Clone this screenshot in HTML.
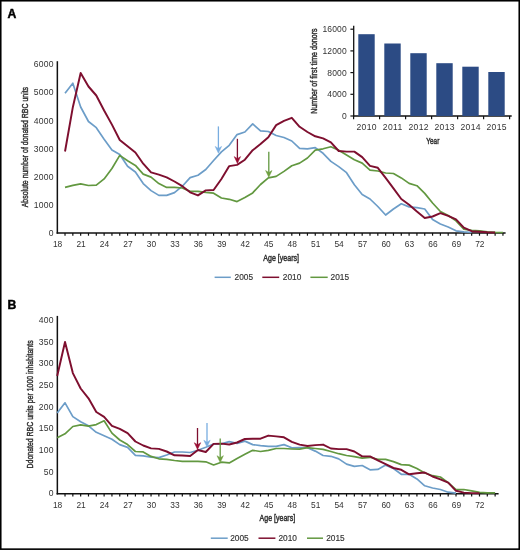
<!DOCTYPE html>
<html><head><meta charset="utf-8"><style>
html,body{margin:0;padding:0;background:#fff;}
svg{display:block;will-change:transform;font-family:"Liberation Sans", sans-serif;}
</style></head><body>
<svg width="520" height="550" viewBox="0 0 520 550">
<rect x="0.75" y="0.75" width="518.5" height="548.4" fill="none" stroke="#000" stroke-width="1.6"/>
<text x="7.5" y="17.6" font-size="12.2" text-anchor="start" fill="#000" font-weight="bold" stroke="#000" stroke-width="0.45">A</text>
<line x1="57.35" y1="61.2" x2="57.35" y2="233.65" stroke="#111" stroke-width="1.5"/>
<line x1="56.6" y1="232.9" x2="505.6" y2="232.9" stroke="#111" stroke-width="1.5"/>
<line x1="65.02" y1="232.9" x2="65.02" y2="235.7" stroke="#111" stroke-width="1.2"/>
<line x1="72.84" y1="232.9" x2="72.84" y2="235.7" stroke="#111" stroke-width="1.2"/>
<line x1="80.66" y1="232.9" x2="80.66" y2="235.7" stroke="#111" stroke-width="1.2"/>
<line x1="88.48" y1="232.9" x2="88.48" y2="235.7" stroke="#111" stroke-width="1.2"/>
<line x1="96.30" y1="232.9" x2="96.30" y2="235.7" stroke="#111" stroke-width="1.2"/>
<line x1="104.12" y1="232.9" x2="104.12" y2="235.7" stroke="#111" stroke-width="1.2"/>
<line x1="111.94" y1="232.9" x2="111.94" y2="235.7" stroke="#111" stroke-width="1.2"/>
<line x1="119.76" y1="232.9" x2="119.76" y2="235.7" stroke="#111" stroke-width="1.2"/>
<line x1="127.58" y1="232.9" x2="127.58" y2="235.7" stroke="#111" stroke-width="1.2"/>
<line x1="135.40" y1="232.9" x2="135.40" y2="235.7" stroke="#111" stroke-width="1.2"/>
<line x1="143.22" y1="232.9" x2="143.22" y2="235.7" stroke="#111" stroke-width="1.2"/>
<line x1="151.04" y1="232.9" x2="151.04" y2="235.7" stroke="#111" stroke-width="1.2"/>
<line x1="158.86" y1="232.9" x2="158.86" y2="235.7" stroke="#111" stroke-width="1.2"/>
<line x1="166.68" y1="232.9" x2="166.68" y2="235.7" stroke="#111" stroke-width="1.2"/>
<line x1="174.50" y1="232.9" x2="174.50" y2="235.7" stroke="#111" stroke-width="1.2"/>
<line x1="182.32" y1="232.9" x2="182.32" y2="235.7" stroke="#111" stroke-width="1.2"/>
<line x1="190.14" y1="232.9" x2="190.14" y2="235.7" stroke="#111" stroke-width="1.2"/>
<line x1="197.96" y1="232.9" x2="197.96" y2="235.7" stroke="#111" stroke-width="1.2"/>
<line x1="205.78" y1="232.9" x2="205.78" y2="235.7" stroke="#111" stroke-width="1.2"/>
<line x1="213.60" y1="232.9" x2="213.60" y2="235.7" stroke="#111" stroke-width="1.2"/>
<line x1="221.42" y1="232.9" x2="221.42" y2="235.7" stroke="#111" stroke-width="1.2"/>
<line x1="229.24" y1="232.9" x2="229.24" y2="235.7" stroke="#111" stroke-width="1.2"/>
<line x1="237.06" y1="232.9" x2="237.06" y2="235.7" stroke="#111" stroke-width="1.2"/>
<line x1="244.88" y1="232.9" x2="244.88" y2="235.7" stroke="#111" stroke-width="1.2"/>
<line x1="252.70" y1="232.9" x2="252.70" y2="235.7" stroke="#111" stroke-width="1.2"/>
<line x1="260.52" y1="232.9" x2="260.52" y2="235.7" stroke="#111" stroke-width="1.2"/>
<line x1="268.34" y1="232.9" x2="268.34" y2="235.7" stroke="#111" stroke-width="1.2"/>
<line x1="276.16" y1="232.9" x2="276.16" y2="235.7" stroke="#111" stroke-width="1.2"/>
<line x1="283.98" y1="232.9" x2="283.98" y2="235.7" stroke="#111" stroke-width="1.2"/>
<line x1="291.80" y1="232.9" x2="291.80" y2="235.7" stroke="#111" stroke-width="1.2"/>
<line x1="299.62" y1="232.9" x2="299.62" y2="235.7" stroke="#111" stroke-width="1.2"/>
<line x1="307.44" y1="232.9" x2="307.44" y2="235.7" stroke="#111" stroke-width="1.2"/>
<line x1="315.26" y1="232.9" x2="315.26" y2="235.7" stroke="#111" stroke-width="1.2"/>
<line x1="323.08" y1="232.9" x2="323.08" y2="235.7" stroke="#111" stroke-width="1.2"/>
<line x1="330.90" y1="232.9" x2="330.90" y2="235.7" stroke="#111" stroke-width="1.2"/>
<line x1="338.72" y1="232.9" x2="338.72" y2="235.7" stroke="#111" stroke-width="1.2"/>
<line x1="346.54" y1="232.9" x2="346.54" y2="235.7" stroke="#111" stroke-width="1.2"/>
<line x1="354.36" y1="232.9" x2="354.36" y2="235.7" stroke="#111" stroke-width="1.2"/>
<line x1="362.18" y1="232.9" x2="362.18" y2="235.7" stroke="#111" stroke-width="1.2"/>
<line x1="370.00" y1="232.9" x2="370.00" y2="235.7" stroke="#111" stroke-width="1.2"/>
<line x1="377.82" y1="232.9" x2="377.82" y2="235.7" stroke="#111" stroke-width="1.2"/>
<line x1="385.64" y1="232.9" x2="385.64" y2="235.7" stroke="#111" stroke-width="1.2"/>
<line x1="393.46" y1="232.9" x2="393.46" y2="235.7" stroke="#111" stroke-width="1.2"/>
<line x1="401.28" y1="232.9" x2="401.28" y2="235.7" stroke="#111" stroke-width="1.2"/>
<line x1="409.10" y1="232.9" x2="409.10" y2="235.7" stroke="#111" stroke-width="1.2"/>
<line x1="416.92" y1="232.9" x2="416.92" y2="235.7" stroke="#111" stroke-width="1.2"/>
<line x1="424.74" y1="232.9" x2="424.74" y2="235.7" stroke="#111" stroke-width="1.2"/>
<line x1="432.56" y1="232.9" x2="432.56" y2="235.7" stroke="#111" stroke-width="1.2"/>
<line x1="440.38" y1="232.9" x2="440.38" y2="235.7" stroke="#111" stroke-width="1.2"/>
<line x1="448.20" y1="232.9" x2="448.20" y2="235.7" stroke="#111" stroke-width="1.2"/>
<line x1="456.02" y1="232.9" x2="456.02" y2="235.7" stroke="#111" stroke-width="1.2"/>
<line x1="463.84" y1="232.9" x2="463.84" y2="235.7" stroke="#111" stroke-width="1.2"/>
<line x1="471.66" y1="232.9" x2="471.66" y2="235.7" stroke="#111" stroke-width="1.2"/>
<line x1="479.48" y1="232.9" x2="479.48" y2="235.7" stroke="#111" stroke-width="1.2"/>
<line x1="487.30" y1="232.9" x2="487.30" y2="235.7" stroke="#111" stroke-width="1.2"/>
<line x1="495.12" y1="232.9" x2="495.12" y2="235.7" stroke="#111" stroke-width="1.2"/>
<line x1="502.94" y1="232.9" x2="502.94" y2="235.7" stroke="#111" stroke-width="1.2"/>
<text x="53.8" y="236.1" font-size="8.6" text-anchor="end" fill="#333" font-weight="normal" letter-spacing="0.25">0</text>
<text x="53.8" y="207.97" font-size="8.6" text-anchor="end" fill="#333" font-weight="normal" letter-spacing="0.25">1000</text>
<text x="53.8" y="179.84" font-size="8.6" text-anchor="end" fill="#333" font-weight="normal" letter-spacing="0.25">2000</text>
<text x="53.8" y="151.70999999999998" font-size="8.6" text-anchor="end" fill="#333" font-weight="normal" letter-spacing="0.25">3000</text>
<text x="53.8" y="123.58" font-size="8.6" text-anchor="end" fill="#333" font-weight="normal" letter-spacing="0.25">4000</text>
<text x="53.8" y="95.44999999999999" font-size="8.6" text-anchor="end" fill="#333" font-weight="normal" letter-spacing="0.25">5000</text>
<text x="53.8" y="67.32" font-size="8.6" text-anchor="end" fill="#333" font-weight="normal" letter-spacing="0.25">6000</text>
<text x="57.6" y="247.2" font-size="8.4" text-anchor="middle" fill="#333" font-weight="normal">18</text>
<text x="81.06" y="247.2" font-size="8.4" text-anchor="middle" fill="#333" font-weight="normal">21</text>
<text x="104.52000000000001" y="247.2" font-size="8.4" text-anchor="middle" fill="#333" font-weight="normal">24</text>
<text x="127.98" y="247.2" font-size="8.4" text-anchor="middle" fill="#333" font-weight="normal">27</text>
<text x="151.44000000000003" y="247.2" font-size="8.4" text-anchor="middle" fill="#333" font-weight="normal">30</text>
<text x="174.9" y="247.2" font-size="8.4" text-anchor="middle" fill="#333" font-weight="normal">33</text>
<text x="198.35999999999999" y="247.2" font-size="8.4" text-anchor="middle" fill="#333" font-weight="normal">36</text>
<text x="221.82000000000002" y="247.2" font-size="8.4" text-anchor="middle" fill="#333" font-weight="normal">39</text>
<text x="245.28" y="247.2" font-size="8.4" text-anchor="middle" fill="#333" font-weight="normal">42</text>
<text x="268.74" y="247.2" font-size="8.4" text-anchor="middle" fill="#333" font-weight="normal">45</text>
<text x="292.2" y="247.2" font-size="8.4" text-anchor="middle" fill="#333" font-weight="normal">48</text>
<text x="315.65999999999997" y="247.2" font-size="8.4" text-anchor="middle" fill="#333" font-weight="normal">51</text>
<text x="339.11999999999995" y="247.2" font-size="8.4" text-anchor="middle" fill="#333" font-weight="normal">54</text>
<text x="362.58" y="247.2" font-size="8.4" text-anchor="middle" fill="#333" font-weight="normal">57</text>
<text x="386.03999999999996" y="247.2" font-size="8.4" text-anchor="middle" fill="#333" font-weight="normal">60</text>
<text x="409.5" y="247.2" font-size="8.4" text-anchor="middle" fill="#333" font-weight="normal">63</text>
<text x="432.96" y="247.2" font-size="8.4" text-anchor="middle" fill="#333" font-weight="normal">66</text>
<text x="456.41999999999996" y="247.2" font-size="8.4" text-anchor="middle" fill="#333" font-weight="normal">69</text>
<text x="479.88" y="247.2" font-size="8.4" text-anchor="middle" fill="#333" font-weight="normal">72</text>
<text x="263.3" y="260.8" font-size="9.5" text-anchor="start" fill="#333" font-weight="normal" textLength="35.69999999999999" lengthAdjust="spacingAndGlyphs" stroke="#333" stroke-width="0.5">Age [years]</text>
<text transform="translate(28.4,207.3) rotate(-90)" x="0" y="0" font-size="9.9" fill="#333" stroke="#333" stroke-width="0.45" textLength="120.4" lengthAdjust="spacingAndGlyphs">Absolute number of donated RBC units</text>
<line x1="214.6" y1="277.3" x2="230.8" y2="277.3" stroke="#6c9dc8" stroke-width="1.5"/>
<text x="234.6" y="280.3" font-size="8.3" text-anchor="start" fill="#333" font-weight="normal" stroke="#333" stroke-width="0.15">2005</text>
<line x1="262.3" y1="277.3" x2="279.2" y2="277.3" stroke="#7e0f2f" stroke-width="1.5"/>
<text x="282.8" y="280.3" font-size="8.3" text-anchor="start" fill="#333" font-weight="normal" stroke="#333" stroke-width="0.15">2010</text>
<line x1="310.4" y1="277.3" x2="327.7" y2="277.3" stroke="#629840" stroke-width="1.5"/>
<text x="330.6" y="280.3" font-size="8.3" text-anchor="start" fill="#333" font-weight="normal" stroke="#333" stroke-width="0.15">2015</text>
<text x="7.5" y="308.6" font-size="12.2" text-anchor="start" fill="#000" font-weight="bold" stroke="#000" stroke-width="0.45">B</text>
<line x1="57.35" y1="315.9" x2="57.35" y2="494.45" stroke="#111" stroke-width="1.5"/>
<line x1="56.6" y1="493.7" x2="498.6" y2="493.7" stroke="#111" stroke-width="1.5"/>
<line x1="65.02" y1="493.7" x2="65.02" y2="496.5" stroke="#111" stroke-width="1.2"/>
<line x1="72.84" y1="493.7" x2="72.84" y2="496.5" stroke="#111" stroke-width="1.2"/>
<line x1="80.66" y1="493.7" x2="80.66" y2="496.5" stroke="#111" stroke-width="1.2"/>
<line x1="88.48" y1="493.7" x2="88.48" y2="496.5" stroke="#111" stroke-width="1.2"/>
<line x1="96.30" y1="493.7" x2="96.30" y2="496.5" stroke="#111" stroke-width="1.2"/>
<line x1="104.12" y1="493.7" x2="104.12" y2="496.5" stroke="#111" stroke-width="1.2"/>
<line x1="111.94" y1="493.7" x2="111.94" y2="496.5" stroke="#111" stroke-width="1.2"/>
<line x1="119.76" y1="493.7" x2="119.76" y2="496.5" stroke="#111" stroke-width="1.2"/>
<line x1="127.58" y1="493.7" x2="127.58" y2="496.5" stroke="#111" stroke-width="1.2"/>
<line x1="135.40" y1="493.7" x2="135.40" y2="496.5" stroke="#111" stroke-width="1.2"/>
<line x1="143.22" y1="493.7" x2="143.22" y2="496.5" stroke="#111" stroke-width="1.2"/>
<line x1="151.04" y1="493.7" x2="151.04" y2="496.5" stroke="#111" stroke-width="1.2"/>
<line x1="158.86" y1="493.7" x2="158.86" y2="496.5" stroke="#111" stroke-width="1.2"/>
<line x1="166.68" y1="493.7" x2="166.68" y2="496.5" stroke="#111" stroke-width="1.2"/>
<line x1="174.50" y1="493.7" x2="174.50" y2="496.5" stroke="#111" stroke-width="1.2"/>
<line x1="182.32" y1="493.7" x2="182.32" y2="496.5" stroke="#111" stroke-width="1.2"/>
<line x1="190.14" y1="493.7" x2="190.14" y2="496.5" stroke="#111" stroke-width="1.2"/>
<line x1="197.96" y1="493.7" x2="197.96" y2="496.5" stroke="#111" stroke-width="1.2"/>
<line x1="205.78" y1="493.7" x2="205.78" y2="496.5" stroke="#111" stroke-width="1.2"/>
<line x1="213.60" y1="493.7" x2="213.60" y2="496.5" stroke="#111" stroke-width="1.2"/>
<line x1="221.42" y1="493.7" x2="221.42" y2="496.5" stroke="#111" stroke-width="1.2"/>
<line x1="229.24" y1="493.7" x2="229.24" y2="496.5" stroke="#111" stroke-width="1.2"/>
<line x1="237.06" y1="493.7" x2="237.06" y2="496.5" stroke="#111" stroke-width="1.2"/>
<line x1="244.88" y1="493.7" x2="244.88" y2="496.5" stroke="#111" stroke-width="1.2"/>
<line x1="252.70" y1="493.7" x2="252.70" y2="496.5" stroke="#111" stroke-width="1.2"/>
<line x1="260.52" y1="493.7" x2="260.52" y2="496.5" stroke="#111" stroke-width="1.2"/>
<line x1="268.34" y1="493.7" x2="268.34" y2="496.5" stroke="#111" stroke-width="1.2"/>
<line x1="276.16" y1="493.7" x2="276.16" y2="496.5" stroke="#111" stroke-width="1.2"/>
<line x1="283.98" y1="493.7" x2="283.98" y2="496.5" stroke="#111" stroke-width="1.2"/>
<line x1="291.80" y1="493.7" x2="291.80" y2="496.5" stroke="#111" stroke-width="1.2"/>
<line x1="299.62" y1="493.7" x2="299.62" y2="496.5" stroke="#111" stroke-width="1.2"/>
<line x1="307.44" y1="493.7" x2="307.44" y2="496.5" stroke="#111" stroke-width="1.2"/>
<line x1="315.26" y1="493.7" x2="315.26" y2="496.5" stroke="#111" stroke-width="1.2"/>
<line x1="323.08" y1="493.7" x2="323.08" y2="496.5" stroke="#111" stroke-width="1.2"/>
<line x1="330.90" y1="493.7" x2="330.90" y2="496.5" stroke="#111" stroke-width="1.2"/>
<line x1="338.72" y1="493.7" x2="338.72" y2="496.5" stroke="#111" stroke-width="1.2"/>
<line x1="346.54" y1="493.7" x2="346.54" y2="496.5" stroke="#111" stroke-width="1.2"/>
<line x1="354.36" y1="493.7" x2="354.36" y2="496.5" stroke="#111" stroke-width="1.2"/>
<line x1="362.18" y1="493.7" x2="362.18" y2="496.5" stroke="#111" stroke-width="1.2"/>
<line x1="370.00" y1="493.7" x2="370.00" y2="496.5" stroke="#111" stroke-width="1.2"/>
<line x1="377.82" y1="493.7" x2="377.82" y2="496.5" stroke="#111" stroke-width="1.2"/>
<line x1="385.64" y1="493.7" x2="385.64" y2="496.5" stroke="#111" stroke-width="1.2"/>
<line x1="393.46" y1="493.7" x2="393.46" y2="496.5" stroke="#111" stroke-width="1.2"/>
<line x1="401.28" y1="493.7" x2="401.28" y2="496.5" stroke="#111" stroke-width="1.2"/>
<line x1="409.10" y1="493.7" x2="409.10" y2="496.5" stroke="#111" stroke-width="1.2"/>
<line x1="416.92" y1="493.7" x2="416.92" y2="496.5" stroke="#111" stroke-width="1.2"/>
<line x1="424.74" y1="493.7" x2="424.74" y2="496.5" stroke="#111" stroke-width="1.2"/>
<line x1="432.56" y1="493.7" x2="432.56" y2="496.5" stroke="#111" stroke-width="1.2"/>
<line x1="440.38" y1="493.7" x2="440.38" y2="496.5" stroke="#111" stroke-width="1.2"/>
<line x1="448.20" y1="493.7" x2="448.20" y2="496.5" stroke="#111" stroke-width="1.2"/>
<line x1="456.02" y1="493.7" x2="456.02" y2="496.5" stroke="#111" stroke-width="1.2"/>
<line x1="463.84" y1="493.7" x2="463.84" y2="496.5" stroke="#111" stroke-width="1.2"/>
<line x1="471.66" y1="493.7" x2="471.66" y2="496.5" stroke="#111" stroke-width="1.2"/>
<line x1="479.48" y1="493.7" x2="479.48" y2="496.5" stroke="#111" stroke-width="1.2"/>
<line x1="487.30" y1="493.7" x2="487.30" y2="496.5" stroke="#111" stroke-width="1.2"/>
<line x1="495.12" y1="493.7" x2="495.12" y2="496.5" stroke="#111" stroke-width="1.2"/>
<text x="53.8" y="496.4" font-size="8.6" text-anchor="end" fill="#333" font-weight="normal" letter-spacing="0.25">0</text>
<text x="53.8" y="474.73499999999996" font-size="8.6" text-anchor="end" fill="#333" font-weight="normal" letter-spacing="0.25">50</text>
<text x="53.8" y="453.07" font-size="8.6" text-anchor="end" fill="#333" font-weight="normal" letter-spacing="0.25">100</text>
<text x="53.8" y="431.405" font-size="8.6" text-anchor="end" fill="#333" font-weight="normal" letter-spacing="0.25">150</text>
<text x="53.8" y="409.74" font-size="8.6" text-anchor="end" fill="#333" font-weight="normal" letter-spacing="0.25">200</text>
<text x="53.8" y="388.075" font-size="8.6" text-anchor="end" fill="#333" font-weight="normal" letter-spacing="0.25">250</text>
<text x="53.8" y="366.40999999999997" font-size="8.6" text-anchor="end" fill="#333" font-weight="normal" letter-spacing="0.25">300</text>
<text x="53.8" y="344.745" font-size="8.6" text-anchor="end" fill="#333" font-weight="normal" letter-spacing="0.25">350</text>
<text x="53.8" y="323.08" font-size="8.6" text-anchor="end" fill="#333" font-weight="normal" letter-spacing="0.25">400</text>
<text x="57.6" y="507.9" font-size="8.4" text-anchor="middle" fill="#333" font-weight="normal">18</text>
<text x="81.06" y="507.9" font-size="8.4" text-anchor="middle" fill="#333" font-weight="normal">21</text>
<text x="104.52000000000001" y="507.9" font-size="8.4" text-anchor="middle" fill="#333" font-weight="normal">24</text>
<text x="127.98" y="507.9" font-size="8.4" text-anchor="middle" fill="#333" font-weight="normal">27</text>
<text x="151.44000000000003" y="507.9" font-size="8.4" text-anchor="middle" fill="#333" font-weight="normal">30</text>
<text x="174.9" y="507.9" font-size="8.4" text-anchor="middle" fill="#333" font-weight="normal">33</text>
<text x="198.35999999999999" y="507.9" font-size="8.4" text-anchor="middle" fill="#333" font-weight="normal">36</text>
<text x="221.82000000000002" y="507.9" font-size="8.4" text-anchor="middle" fill="#333" font-weight="normal">39</text>
<text x="245.28" y="507.9" font-size="8.4" text-anchor="middle" fill="#333" font-weight="normal">42</text>
<text x="268.74" y="507.9" font-size="8.4" text-anchor="middle" fill="#333" font-weight="normal">45</text>
<text x="292.2" y="507.9" font-size="8.4" text-anchor="middle" fill="#333" font-weight="normal">48</text>
<text x="315.65999999999997" y="507.9" font-size="8.4" text-anchor="middle" fill="#333" font-weight="normal">51</text>
<text x="339.11999999999995" y="507.9" font-size="8.4" text-anchor="middle" fill="#333" font-weight="normal">54</text>
<text x="362.58" y="507.9" font-size="8.4" text-anchor="middle" fill="#333" font-weight="normal">57</text>
<text x="386.03999999999996" y="507.9" font-size="8.4" text-anchor="middle" fill="#333" font-weight="normal">60</text>
<text x="409.5" y="507.9" font-size="8.4" text-anchor="middle" fill="#333" font-weight="normal">63</text>
<text x="432.96" y="507.9" font-size="8.4" text-anchor="middle" fill="#333" font-weight="normal">66</text>
<text x="456.41999999999996" y="507.9" font-size="8.4" text-anchor="middle" fill="#333" font-weight="normal">69</text>
<text x="479.88" y="507.9" font-size="8.4" text-anchor="middle" fill="#333" font-weight="normal">72</text>
<text x="259.6" y="521.4" font-size="9.5" text-anchor="start" fill="#333" font-weight="normal" textLength="35.5" lengthAdjust="spacingAndGlyphs" stroke="#333" stroke-width="0.5">Age [years]</text>
<text transform="translate(33.1,468.4) rotate(-90)" x="0" y="0" font-size="9.9" fill="#333" stroke="#333" stroke-width="0.45" textLength="128.0" lengthAdjust="spacingAndGlyphs">Ddonated RBC units per 1000 inhabitants</text>
<line x1="210.8" y1="538.2" x2="227.7" y2="538.2" stroke="#6c9dc8" stroke-width="1.5"/>
<text x="230.2" y="541.2" font-size="8.3" text-anchor="start" fill="#333" font-weight="normal" stroke="#333" stroke-width="0.15">2005</text>
<line x1="258.5" y1="538.2" x2="275.4" y2="538.2" stroke="#7e0f2f" stroke-width="1.5"/>
<text x="278.5" y="541.2" font-size="8.3" text-anchor="start" fill="#333" font-weight="normal" stroke="#333" stroke-width="0.15">2010</text>
<line x1="307" y1="538.2" x2="323" y2="538.2" stroke="#629840" stroke-width="1.5"/>
<text x="326.2" y="541.2" font-size="8.3" text-anchor="start" fill="#333" font-weight="normal" stroke="#333" stroke-width="0.15">2015</text>
<polyline points="65.02,93.30 72.84,83.20 80.66,107.00 88.48,121.50 96.30,127.70 104.12,139.20 111.94,150.00 119.76,154.60 127.58,166.20 135.40,172.00 143.22,183.60 151.04,190.60 158.86,195.40 166.68,195.40 174.50,192.60 182.32,186.20 190.14,177.60 197.96,175.30 205.78,169.50 213.60,160.50 221.42,151.90 229.24,145.30 237.06,134.60 244.88,132.00 252.70,123.90 260.52,130.80 268.34,131.50 276.16,135.50 283.98,137.50 291.80,141.00 299.62,148.40 307.44,148.80 315.26,147.60 323.08,153.30 330.90,161.40 338.72,166.60 346.54,172.70 354.36,184.80 362.18,194.50 370.00,199.00 377.82,206.50 385.64,215.00 393.46,209.00 401.28,203.80 409.10,206.90 416.92,207.60 424.74,209.00 432.56,219.50 440.38,224.00 448.20,227.00 456.02,230.80 463.84,231.80 471.66,232.50" fill="none" stroke="#6c9dc8" stroke-width="1.7" stroke-linejoin="round" stroke-linecap="butt"/>
<polyline points="65.02,187.30 72.84,185.40 80.66,183.80 88.48,185.50 96.30,185.20 104.12,178.90 111.94,168.50 119.76,155.40 127.58,160.80 135.40,165.40 143.22,174.10 151.04,177.10 158.86,183.60 166.68,187.40 174.50,187.40 182.32,188.00 190.14,191.40 197.96,191.40 205.78,192.40 213.60,193.20 221.42,198.00 229.24,199.30 237.06,201.60 244.88,197.60 252.70,192.90 260.52,184.50 268.34,177.90 276.16,176.40 283.98,171.40 291.80,165.70 299.62,163.10 307.44,158.00 315.26,150.20 323.08,148.80 330.90,146.70 338.72,150.20 346.54,155.00 354.36,159.70 362.18,163.10 370.00,170.10 377.82,171.00 385.64,173.00 393.46,173.50 401.28,177.90 409.10,183.40 416.92,185.70 424.74,193.40 432.56,203.00 440.38,211.50 448.20,215.50 456.02,220.80 463.84,229.20 471.66,230.30 479.48,230.80 487.30,231.80 495.12,232.30 502.94,232.50" fill="none" stroke="#629840" stroke-width="1.7" stroke-linejoin="round" stroke-linecap="butt"/>
<polyline points="65.02,151.50 72.84,107.20 80.66,73.00 88.48,86.50 96.30,95.50 104.12,110.50 111.94,124.60 119.76,140.00 127.58,146.20 135.40,152.50 143.22,163.70 151.04,172.40 158.86,174.60 166.68,177.30 174.50,181.50 182.32,186.20 190.14,192.30 197.96,195.40 205.78,190.40 213.60,190.00 221.42,179.00 229.24,166.10 237.06,164.90 244.88,159.70 252.70,150.20 260.52,144.10 268.34,137.20 276.16,125.10 283.98,120.80 291.80,117.80 299.62,126.80 307.44,132.00 315.26,136.30 323.08,138.40 330.90,142.40 338.72,151.00 346.54,151.60 354.36,151.60 362.18,157.10 370.00,165.90 377.82,167.80 385.64,177.90 393.46,188.30 401.28,199.00 409.10,204.70 416.92,211.60 424.74,218.00 432.56,216.50 440.38,213.20 448.20,215.90 456.02,219.30 463.84,227.70 471.66,231.20 479.48,231.80 487.30,232.30 495.12,232.50" fill="none" stroke="#7e0f2f" stroke-width="1.95" stroke-linejoin="round" stroke-linecap="butt"/>
<polyline points="57.20,413.10 65.02,402.80 72.84,416.60 80.66,421.80 88.48,425.80 96.30,432.30 104.12,435.70 111.94,439.20 119.76,444.60 127.58,447.40 135.40,455.30 143.22,455.80 151.04,457.10 158.86,457.60 166.68,455.00 174.50,452.00 182.32,452.00 190.14,452.50 197.96,450.30 205.78,447.30 213.60,444.00 221.42,443.90 229.24,441.60 237.06,443.40 244.88,441.10 252.70,444.60 260.52,445.60 268.34,446.30 276.16,446.30 283.98,444.60 291.80,447.80 299.62,447.70 307.44,447.70 315.26,451.10 323.08,455.50 330.90,456.30 338.72,458.90 346.54,464.10 354.36,466.40 362.18,465.50 370.00,469.80 377.82,469.40 385.64,465.10 393.46,468.50 401.28,474.30 409.10,474.30 416.92,478.90 424.74,485.80 432.56,488.00 440.38,489.50 448.20,492.20 456.02,493.20" fill="none" stroke="#6c9dc8" stroke-width="1.7" stroke-linejoin="round" stroke-linecap="butt"/>
<polyline points="57.20,437.70 65.02,433.80 72.84,426.50 80.66,424.90 88.48,426.20 96.30,424.60 104.12,420.80 111.94,433.10 119.76,440.00 127.58,444.60 135.40,451.50 143.22,451.90 151.04,456.40 158.86,458.80 166.68,459.30 174.50,460.50 182.32,461.40 190.14,461.40 197.96,461.40 205.78,461.80 213.60,465.00 221.42,462.20 229.24,462.90 237.06,458.40 244.88,454.30 252.70,450.30 260.52,451.50 268.34,450.30 276.16,448.50 283.98,448.50 291.80,449.00 299.62,449.10 307.44,447.70 315.26,448.50 323.08,449.40 330.90,451.50 338.72,453.70 346.54,455.50 354.36,456.70 362.18,458.10 370.00,457.30 377.82,459.40 385.64,459.40 393.46,461.60 401.28,464.60 409.10,465.10 416.92,468.50 424.74,472.90 432.56,475.70 440.38,477.00 448.20,482.60 456.02,489.60 463.84,489.50 471.66,490.80 479.48,492.30 487.30,492.80 495.12,492.80" fill="none" stroke="#629840" stroke-width="1.7" stroke-linejoin="round" stroke-linecap="butt"/>
<polyline points="57.20,376.00 65.02,342.00 72.84,373.10 80.66,388.50 88.48,398.30 96.30,412.00 104.12,416.90 111.94,425.80 119.76,428.90 127.58,433.10 135.40,441.50 143.22,445.50 151.04,448.40 158.86,448.90 166.68,451.50 174.50,455.30 182.32,455.50 190.14,456.00 197.96,450.00 205.78,452.00 213.60,443.90 221.42,443.60 229.24,444.50 237.06,442.50 244.88,439.00 252.70,438.70 260.52,438.70 268.34,435.60 276.16,436.40 283.98,437.30 291.80,441.80 299.62,444.60 307.44,446.00 315.26,445.10 323.08,444.60 330.90,448.50 338.72,449.10 346.54,449.10 354.36,451.50 362.18,456.30 370.00,456.40 377.82,460.40 385.64,464.20 393.46,468.00 401.28,469.80 409.10,474.30 416.92,473.20 424.74,472.50 432.56,476.50 440.38,479.30 448.20,482.60 456.02,490.80 463.84,492.60 471.66,493.10 479.48,493.30" fill="none" stroke="#7e0f2f" stroke-width="1.95" stroke-linejoin="round" stroke-linecap="butt"/>
<line x1="218.4" y1="126.4" x2="218.4" y2="149.2" stroke="#78ade0" stroke-width="1.3"/><path d="M215.20000000000002,146.39999999999998 L218.4,148.44 L221.6,146.39999999999998 L218.4,153.2 Z" fill="#78ade0" stroke="#78ade0" stroke-width="0.5" stroke-linejoin="round"/>
<line x1="237.4" y1="138.8" x2="237.4" y2="159.4" stroke="#7e0f2f" stroke-width="1.3"/><path d="M234.20000000000002,156.6 L237.4,158.64000000000001 L240.6,156.6 L237.4,163.4 Z" fill="#9a0c32" stroke="#9a0c32" stroke-width="0.5" stroke-linejoin="round"/>
<line x1="268.8" y1="151.8" x2="268.8" y2="173.3" stroke="#629840" stroke-width="1.3"/><path d="M265.6,170.5 L268.8,172.54000000000002 L272.0,170.5 L268.8,177.3 Z" fill="#6fa040" stroke="#6fa040" stroke-width="0.5" stroke-linejoin="round"/>
<line x1="197.5" y1="428" x2="197.5" y2="445.5" stroke="#7e0f2f" stroke-width="1.3"/><path d="M194.3,442.7 L197.5,444.74 L200.7,442.7 L197.5,449.5 Z" fill="#9a0c32" stroke="#9a0c32" stroke-width="0.5" stroke-linejoin="round"/>
<line x1="207.0" y1="423" x2="207.0" y2="443.0" stroke="#78ade0" stroke-width="1.3"/><path d="M203.8,440.2 L207.0,442.24 L210.2,440.2 L207.0,447.0 Z" fill="#78ade0" stroke="#78ade0" stroke-width="0.5" stroke-linejoin="round"/>
<line x1="220.2" y1="438.5" x2="220.2" y2="458.5" stroke="#629840" stroke-width="1.3"/><path d="M217.0,455.7 L220.2,457.74 L223.39999999999998,455.7 L220.2,462.5 Z" fill="#6fa040" stroke="#6fa040" stroke-width="0.5" stroke-linejoin="round"/>
<line x1="353.7" y1="25.8" x2="353.7" y2="116.6" stroke="#111" stroke-width="1.3"/>
<line x1="353.1" y1="116" x2="511.7" y2="116" stroke="#111" stroke-width="1.3"/>
<line x1="350.4" y1="116.00" x2="353.7" y2="116.00" stroke="#111" stroke-width="1.2"/>
<text x="346.8" y="119.0" font-size="8.5" text-anchor="end" fill="#333" font-weight="normal" letter-spacing="0.15">0</text>
<line x1="350.4" y1="94.30" x2="353.7" y2="94.30" stroke="#111" stroke-width="1.2"/>
<text x="346.8" y="97.3" font-size="8.5" text-anchor="end" fill="#333" font-weight="normal" letter-spacing="0.15">4000</text>
<line x1="350.4" y1="72.60" x2="353.7" y2="72.60" stroke="#111" stroke-width="1.2"/>
<text x="346.8" y="75.6" font-size="8.5" text-anchor="end" fill="#333" font-weight="normal" letter-spacing="0.15">8000</text>
<line x1="350.4" y1="50.90" x2="353.7" y2="50.90" stroke="#111" stroke-width="1.2"/>
<text x="346.8" y="53.89999999999999" font-size="8.5" text-anchor="end" fill="#333" font-weight="normal" letter-spacing="0.15">12000</text>
<line x1="350.4" y1="29.20" x2="353.7" y2="29.20" stroke="#111" stroke-width="1.2"/>
<text x="346.8" y="32.2" font-size="8.5" text-anchor="end" fill="#333" font-weight="normal" letter-spacing="0.15">16000</text>
<line x1="353.60" y1="116" x2="353.60" y2="119.3" stroke="#111" stroke-width="1.2"/>
<line x1="379.60" y1="116" x2="379.60" y2="119.3" stroke="#111" stroke-width="1.2"/>
<line x1="405.60" y1="116" x2="405.60" y2="119.3" stroke="#111" stroke-width="1.2"/>
<line x1="431.60" y1="116" x2="431.60" y2="119.3" stroke="#111" stroke-width="1.2"/>
<line x1="457.60" y1="116" x2="457.60" y2="119.3" stroke="#111" stroke-width="1.2"/>
<line x1="483.60" y1="116" x2="483.60" y2="119.3" stroke="#111" stroke-width="1.2"/>
<line x1="509.60" y1="116" x2="509.60" y2="119.3" stroke="#111" stroke-width="1.2"/>
<rect x="358.30" y="34.2" width="16.4" height="81.80" fill="#2c4b84"/>
<text x="366.7" y="130.4" font-size="8.6" text-anchor="middle" fill="#333" font-weight="normal" letter-spacing="0.3">2010</text>
<rect x="384.30" y="43.5" width="16.4" height="72.50" fill="#2c4b84"/>
<text x="392.7" y="130.4" font-size="8.6" text-anchor="middle" fill="#333" font-weight="normal" letter-spacing="0.3">2011</text>
<rect x="410.30" y="53.2" width="16.4" height="62.80" fill="#2c4b84"/>
<text x="418.7" y="130.4" font-size="8.6" text-anchor="middle" fill="#333" font-weight="normal" letter-spacing="0.3">2012</text>
<rect x="436.30" y="63.2" width="16.4" height="52.80" fill="#2c4b84"/>
<text x="444.7" y="130.4" font-size="8.6" text-anchor="middle" fill="#333" font-weight="normal" letter-spacing="0.3">2013</text>
<rect x="462.30" y="66.7" width="16.4" height="49.30" fill="#2c4b84"/>
<text x="470.7" y="130.4" font-size="8.6" text-anchor="middle" fill="#333" font-weight="normal" letter-spacing="0.3">2014</text>
<rect x="488.30" y="72.0" width="16.4" height="44.00" fill="#2c4b84"/>
<text x="496.7" y="130.4" font-size="8.6" text-anchor="middle" fill="#333" font-weight="normal" letter-spacing="0.3">2015</text>
<text x="426.3" y="143.9" font-size="9.4" text-anchor="start" fill="#333" font-weight="normal" textLength="13.0" lengthAdjust="spacingAndGlyphs" stroke="#333" stroke-width="0.5">Year</text>
<text transform="translate(316.9,113.8) rotate(-90)" x="0" y="0" font-size="9.9" fill="#333" stroke="#333" stroke-width="0.45" textLength="85.4" lengthAdjust="spacingAndGlyphs">Number of first time donors</text>
</svg>
</body></html>
